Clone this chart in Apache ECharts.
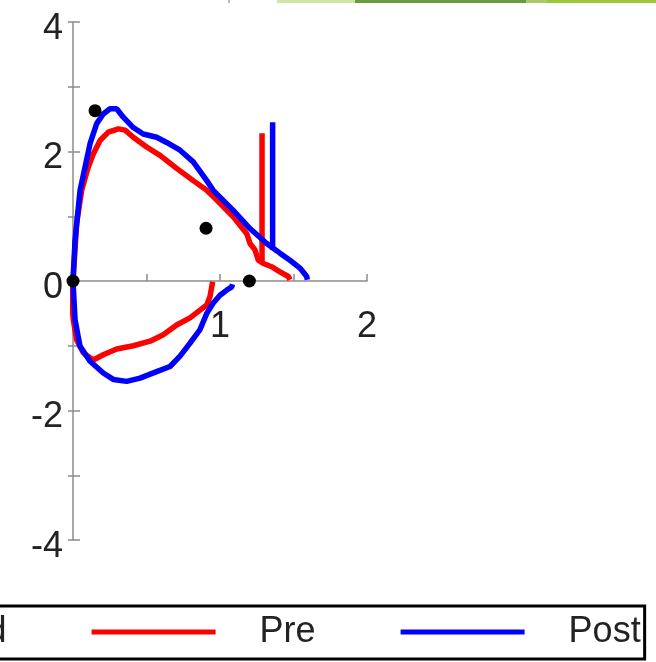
<!DOCTYPE html>
<html>
<head>
<meta charset="utf-8">
<script src="https://cdn.jsdelivr.net/npm/echarts@6/dist/echarts.min.js"></script>
<style>
  html, body { margin: 0; padding: 0; background: #fff; }
  #chart { width: 656px; height: 662px; }
</style>
</head>
<body>
<div id="chart"></div>
<script>
// volume (L) , flow (L/s)
const preExpiratory = [
  [0, 0], [0.025, 0.89], [0.059, 1.40], [0.104, 1.76], [0.138, 1.96], [0.184, 2.17],
  [0.240, 2.30], [0.308, 2.35], [0.354, 2.33], [0.410, 2.22], [0.501, 2.07], [0.592, 1.94],
  [0.705, 1.74], [0.818, 1.55], [0.910, 1.40], [0.978, 1.25], [1.090, 0.99], [1.182, 0.73],
  [1.204, 0.58], [1.238, 0.48], [1.261, 0.32], [1.295, 0.27], [1.352, 0.22], [1.408, 0.14],
  [1.465, 0.07], [1.476, 0.02]
]
const preInspiratory = [
  [0, 0], [-0.01, -0.3], [0.002, -0.60], [0.025, -0.91], [0.070, -1.11], [0.138, -1.22],
  [0.206, -1.14], [0.297, -1.05], [0.410, -1.00], [0.524, -0.93], [0.614, -0.83],
  [0.705, -0.68], [0.796, -0.57], [0.864, -0.45], [0.910, -0.37], [0.932, -0.24], [0.950, -0.01]
]
const postExpiratory = [
  [0, 0], [0.014, 0.63], [0.048, 1.40], [0.082, 1.76], [0.116, 2.12], [0.161, 2.43],
  [0.206, 2.58], [0.252, 2.66], [0.297, 2.66], [0.342, 2.53], [0.410, 2.37], [0.478, 2.27],
  [0.569, 2.22], [0.637, 2.14], [0.728, 2.02], [0.818, 1.84], [0.910, 1.55], [0.954, 1.40],
  [1.090, 1.09], [1.204, 0.81], [1.318, 0.58], [1.408, 0.43], [1.476, 0.32], [1.544, 0.20],
  [1.590, 0.07], [1.594, 0.02]
]
const postInspiratory = [
  [0, 0], [0.014, -0.60], [0.048, -1.01], [0.116, -1.24], [0.206, -1.42], [0.274, -1.52],
  [0.365, -1.55], [0.456, -1.50], [0.569, -1.40], [0.660, -1.32], [0.728, -1.16],
  [0.796, -0.96], [0.864, -0.75], [0.910, -0.50], [0.954, -0.34], [1.000, -0.22],
  [1.046, -0.14], [1.080, -0.09], [1.085, -0.05]
]
const preSpike = [[1.286, 0.28], [1.286, 2.28]]
const postSpike = [[1.358, 0.48], [1.358, 2.45]]
const predicted = [[0, 0], [0.15, 2.63], [0.905, 0.815], [1.2, 0]]

const xLabelValues = [1, 2]
const yLabelValues = [-4, -2, 0, 2, 4]

const font = 'Liberation Sans, Arial, sans-serif'
const axisGray = '#8c8c8c'

let myChart = echarts.init(document.getElementById('chart'))

function lineSeries(name, data, color) {
  return {
    name: name,
    type: 'line',
    data: data,
    showSymbol: false,
    symbol: 'none',
    lineStyle: { color: color, width: 5.5 },
    itemStyle: { color: color },
    animation: false,
    z: 3
  }
}

let option = {
  backgroundColor: '#ffffff',
  animation: false,
  grid: { left: 73, top: 22, width: 294, height: 518, containLabel: false },
  xAxis: {
    type: 'value',
    min: 0,
    max: 2,
    interval: 0.5,
    position: 'bottom',
    offset: -259, // sits on flow = 0
    axisLine: { onZero: false, lineStyle: { color: axisGray, width: 1.5 } },
    axisTick: { show: true, inside: true, length: 7, lineStyle: { color: axisGray, width: 1.5 } },
    splitLine: { show: false },
    axisLabel: {
      margin: 28,
      fontSize: 36,
      fontFamily: font,
      color: '#222',
      formatter: (v) => (xLabelValues.indexOf(v) > -1 ? String(v) : '')
    }
  },
  yAxis: [
    {
      type: 'value',
      min: -4,
      max: 4,
      interval: 1,
      axisLine: { show: true, onZero: false, lineStyle: { color: axisGray, width: 1.5 } },
      axisTick: { show: true, inside: true, length: 7, lineStyle: { color: axisGray, width: 1.5 } },
      splitLine: { show: false },
      axisLabel: {
        margin: 10,
        fontSize: 36,
        fontFamily: font,
        color: '#222',
        verticalAlign: 'top',
        lineHeight: 14,
        formatter: (v) => (yLabelValues.indexOf(v) > -1 ? String(v) : '')
      }
    },
    {
      type: 'value',
      min: -4,
      max: 4,
      interval: 1,
      position: 'left',
      axisLine: { show: false, onZero: false },
      axisTick: { show: true, inside: false, length: 5, lineStyle: { color: axisGray, width: 1.5 } },
      splitLine: { show: false },
      axisLabel: { show: false }
    }
  ],
  legend: {
    data: [
      { name: 'Predicted', icon: 'circle' },
      { name: 'Pre', icon: 'rect' },
      { name: 'Post', icon: 'rect' }
    ],
    orient: 'horizontal',
    left: -258,
    top: 606,
    width: 1200,
    padding: [4, 4, 5, 4],
    itemWidth: 124,
    itemHeight: 5,
    itemGap: 85,
    borderColor: '#000',
    borderWidth: 3,
    selectedMode: false,
    textStyle: {
      fontSize: 36,
      lineHeight: 36,
      fontFamily: font,
      color: '#222',
      padding: [8, 0, 0, 39]
    }
  },
  graphic: [
    { type: 'rect', shape: { x: 277, y: 0, width: 78, height: 3 }, style: { fill: '#cfe4a6' }, silent: true },
    { type: 'rect', shape: { x: 355, y: 0, width: 171, height: 3 }, style: { fill: '#6a9b3e' }, silent: true },
    { type: 'rect', shape: { x: 526, y: 0, width: 21, height: 3 }, style: { fill: '#a6cc6a' }, silent: true },
    { type: 'rect', shape: { x: 547, y: 0, width: 109, height: 3 }, style: { fill: '#9cc63c' }, silent: true },
    { type: 'rect', shape: { x: 228, y: 0, width: 2, height: 3 }, style: { fill: '#bbbbbb' }, silent: true }
  ],
  series: [
    lineSeries('Pre', preInspiratory, '#ff0000'),
    lineSeries('Pre', preExpiratory, '#ff0000'),
    lineSeries('Pre', preSpike, '#ff0000'),
    lineSeries('Post', postInspiratory, '#0000ff'),
    lineSeries('Post', postExpiratory, '#0000ff'),
    lineSeries('Post', postSpike, '#0000ff'),
    {
      name: 'Predicted',
      type: 'scatter',
      data: predicted,
      symbol: 'circle',
      symbolSize: 13,
      itemStyle: { color: '#000', opacity: 1 },
      z: 5
    }
  ]
}
myChart.setOption(option)
window.addEventListener('resize', () => {
  myChart.resize()
})
</script>
</body>
</html>
